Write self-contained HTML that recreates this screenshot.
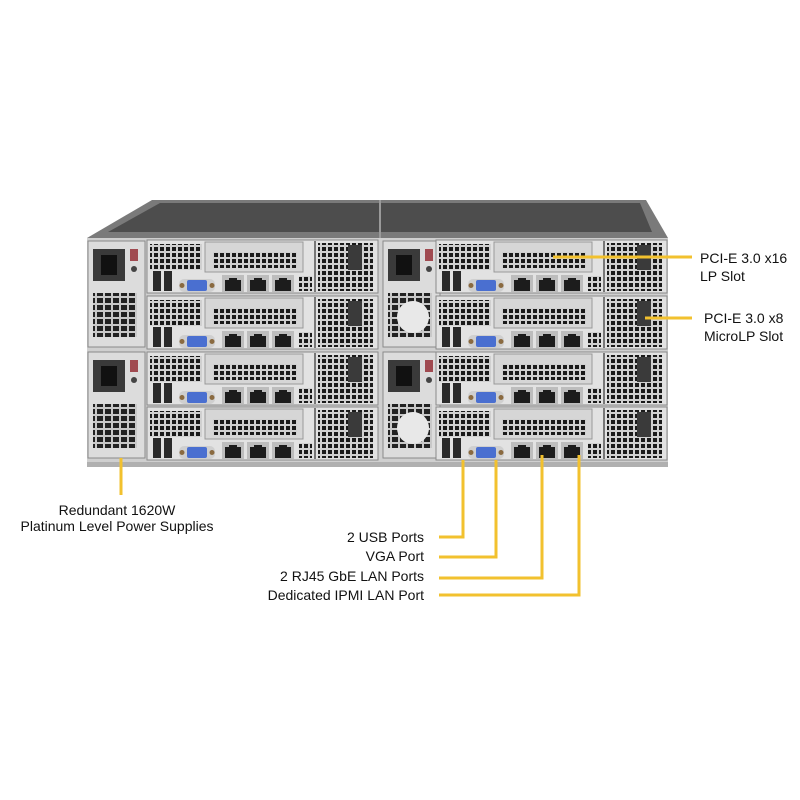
<!DOCTYPE html>
<html><head><meta charset="utf-8"><style>
html,body{margin:0;padding:0;background:#fff;width:800px;height:800px;overflow:hidden}
svg{display:block}
text{font-family:"Liberation Sans",Arial,sans-serif;font-size:14px;fill:#111}
</style></head><body>
<svg width="800" height="800" viewBox="0 0 800 800" xmlns="http://www.w3.org/2000/svg">
<defs>
<pattern id="mesh" width="6" height="6" patternUnits="userSpaceOnUse">
<rect width="6" height="6" fill="#d0d0d0"/><rect x="1" y="1" width="4" height="4" fill="#1a1a1a"/>
</pattern>
<pattern id="mesh2" width="8" height="7" patternUnits="userSpaceOnUse">
<rect width="8" height="7" fill="#c8c8c8"/><rect x="1" y="1" width="6" height="5" fill="#222"/>
</pattern>
<g id="rj"><rect width="22" height="17" fill="#bdbdbd"/><rect x="3" y="5" width="16" height="11" fill="#1c1c1c"/><rect x="7" y="3" width="8" height="3" fill="#1c1c1c"/></g>
<g id="node">
<rect x="0" y="0" width="231" height="53" fill="#e2e2e2" stroke="#8a8a8a" stroke-width="1"/>
<rect x="3" y="4" width="52" height="26" fill="url(#mesh)"/>
<rect x="58" y="2" width="98" height="30" fill="#d6d6d6" stroke="#999" stroke-width="1"/>
<rect x="66" y="12" width="84" height="16" fill="url(#mesh)"/>
<rect x="6" y="31" width="8" height="20" fill="#2a2a2a"/><rect x="17" y="31" width="8" height="20" fill="#2a2a2a"/>
<rect x="32" y="39" width="36" height="13" rx="5" fill="#cfcfcf"/><rect x="40" y="40" width="20" height="11" rx="2" fill="#4a6fd0"/>
<circle cx="35" cy="45.5" r="2.5" fill="#8a6a40"/><circle cx="65" cy="45.5" r="2.5" fill="#8a6a40"/>
<use href="#rj" x="75" y="35"/><use href="#rj" x="100" y="35"/><use href="#rj" x="125" y="35"/>
<rect x="152" y="36" width="13" height="15" fill="url(#mesh)"/>
<rect x="167" y="1" width="2" height="51" fill="#777"/>
<rect x="171" y="3" width="55" height="48" fill="url(#mesh)"/>
<rect x="201" y="5" width="14" height="25" fill="#3a3a3a"/>
</g>
<g id="psu">
<rect x="0" y="0" width="57" height="106" fill="#dcdcdc" stroke="#8a8a8a"/>
<rect x="5" y="8" width="32" height="32" fill="#3a3a3a"/>
<rect x="13" y="14" width="16" height="20" fill="#111"/>
<rect x="42" y="8" width="8" height="12" fill="#a04a50"/>
<circle cx="46" cy="28" r="3" fill="#444"/>
<rect x="5" y="52" width="44" height="44" fill="url(#mesh2)"/>
</g>
</defs>
<!-- top face -->
<polygon points="152,200 646,200 668,238 87,238" fill="#7a7a7a"/>
<polygon points="160,203 640,203 652,232 108,232" fill="#4d4d4d"/>
<line x1="380" y1="200" x2="380" y2="238" stroke="#9a9a9a" stroke-width="2"/>
<!-- body -->
<rect x="87" y="238" width="581" height="228" fill="#cfcfcf"/>
<rect x="87" y="462" width="581" height="5" fill="#b0b0b0"/>
<use href="#psu" x="88" y="241"/><use href="#psu" x="88" y="352"/>
<use href="#psu" x="383" y="241"/><use href="#psu" x="383" y="352"/>
<circle cx="413" cy="317" r="16" fill="#e8e8e8"/><circle cx="413" cy="428" r="16" fill="#e8e8e8"/>
<use href="#node" x="147" y="240"/><use href="#node" x="147" y="296"/>
<use href="#node" x="147" y="352"/><use href="#node" x="147" y="407"/>
<use href="#node" x="436" y="240"/><use href="#node" x="436" y="296"/>
<use href="#node" x="436" y="352"/><use href="#node" x="436" y="407"/>
<!-- leaders -->
<g stroke="#f2c12e" stroke-width="3" fill="none">
<polyline points="553,257 692,257"/>
<polyline points="645,318 692,318"/>
<polyline points="121,458 121,495"/>
<polyline points="463,460 463,537 439,537"/>
<polyline points="496,460 496,557 439,557"/>
<polyline points="542,455 542,578 439,578"/>
<polyline points="579,455 579,595 439,595"/>
</g>
<text x="700" y="263">PCI-E 3.0 x16</text>
<text x="700" y="281">LP Slot</text>
<text x="704" y="323">PCI-E 3.0 x8</text>
<text x="704" y="341">MicroLP Slot</text>
<text x="117" y="515" text-anchor="middle">Redundant 1620W</text>
<text x="117" y="531" text-anchor="middle">Platinum Level Power Supplies</text>
<text x="424" y="542" text-anchor="end">2 USB Ports</text>
<text x="424" y="561" text-anchor="end">VGA Port</text>
<text x="424" y="581" text-anchor="end">2 RJ45 GbE LAN Ports</text>
<text x="424" y="600" text-anchor="end">Dedicated IPMI LAN Port</text>
</svg>
</body></html>
